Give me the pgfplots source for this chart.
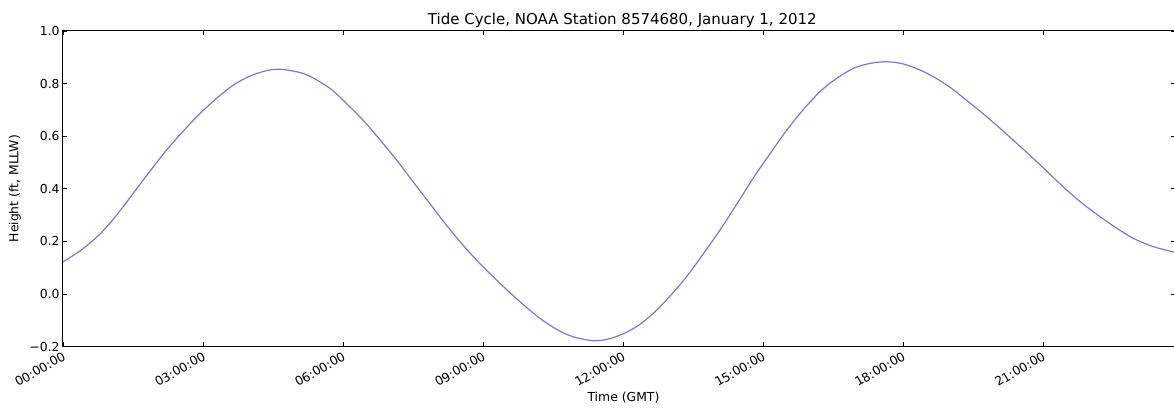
\documentclass[border=0pt]{standalone}
\usepackage{pgfplots}
\pgfplotsset{compat=1.18}
\usepackage{fontspec}
\setmainfont{DejaVu Sans}
\definecolor{tideblue}{RGB}{118,118,228}
\newcommand{\fs}{\fontsize{6.2pt}{7.4pt}\selectfont}
\newcommand{\ft}{\fontsize{7.5pt}{9pt}\selectfont}
\begin{document}
\begin{tikzpicture}
\begin{axis}[
  at={(0,0)}, anchor=south west,
  scale only axis, width=556pt, height=157.75pt,
  xmin=0, xmax=23.83, ymin=-0.2, ymax=1.0,
  xtick={0,3,6,9,12,15,18,21},
  xticklabels={00:00:00,03:00:00,06:00:00,09:00:00,12:00:00,15:00:00,18:00:00,21:00:00},
  ytick={-0.2,0,0.2,0.4,0.6,0.8,1.0},
  yticklabels={−0.2,0.0,0.2,0.4,0.6,0.8,1.0},
  tick align=inside, major tick length=2pt,
  tick style={black, line width=0.4pt},
  axis line style={line width=0.5pt},
  xticklabel style={font=\fs, rotate=30, anchor=north east, inner sep=1.5pt},
  yticklabel style={font=\fs, inner sep=1.5pt},
  xlabel={Time (GMT)}, ylabel={Height (ft, MLLW)},
  xlabel style={font=\fs, at={(axis description cs:0.504,-0.163)}, anchor=center},
  ylabel style={font=\fs, at={(axis description cs:-0.0432,0.5)}, anchor=center, rotate=0},
  title={Tide Cycle, NOAA Station 8574680, January 1, 2012},
  every axis title shift=0pt,
  title style={font=\ft, at={(axis description cs:0.503,1.019)}, anchor=base, inner sep=0pt, yshift=0pt},
]
\addplot[tideblue, line width=0.6pt, smooth] coordinates {
(0,0.122) (0.4,0.168) (0.793,0.228) (1.15,0.300) (1.507,0.383) (1.86,0.466) (2.22,0.547)
(2.58,0.620) (2.94,0.687) (3.3,0.745) (3.65,0.794) (4.0,0.828) (4.36,0.849) (4.69,0.854)
(5.2,0.835) (5.72,0.782) (6.07,0.725) (6.43,0.661) (6.79,0.587) (7.15,0.509) (7.5,0.427)
(7.86,0.344) (8.21,0.263) (8.57,0.186) (8.93,0.116) (9.29,0.053) (9.57,0.006) (9.86,-0.040)
(10.22,-0.093) (10.58,-0.135) (10.93,-0.163) (11.36,-0.178) (11.68,-0.172)
(12.0,-0.152) (12.33,-0.120) (12.65,-0.074) (13.0,-0.010) (13.36,0.065) (13.72,0.152)
(14.08,0.243) (14.44,0.342) (14.79,0.440) (15.15,0.533) (15.51,0.623) (15.87,0.702)
(16.22,0.769) (16.58,0.820) (16.94,0.858) (17.3,0.877) (17.65,0.883) (18.0,0.875)
(18.36,0.852) (18.65,0.826) (19.0,0.787) (19.36,0.737) (19.72,0.685)
(20.08,0.630) (20.43,0.574) (20.79,0.516) (21.15,0.455) (21.51,0.395) (21.86,0.342)
(22.22,0.294) (22.58,0.250) (22.94,0.211) (23.36,0.180) (23.83,0.158)
};
\end{axis}
\pgfresetboundingbox
\useasboundingbox (-31.5pt,-31.75pt) rectangle (555.5pt,173.25pt);
\end{tikzpicture}
\end{document}
